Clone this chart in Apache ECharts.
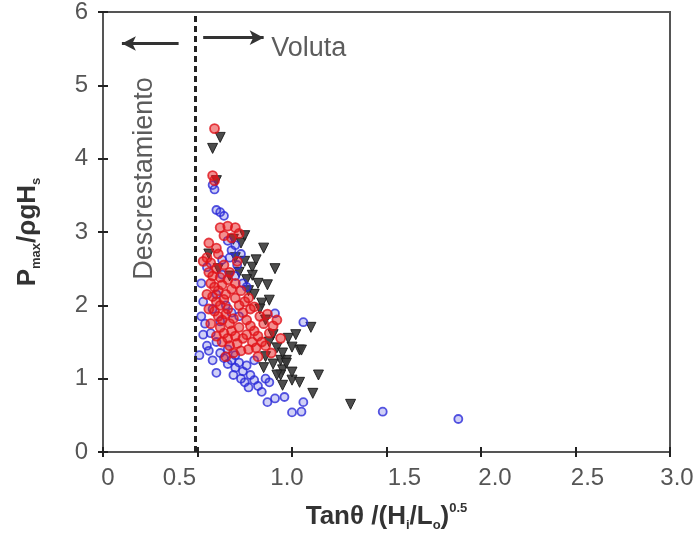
<!DOCTYPE html>
<html>
<head>
<meta charset="utf-8">
<script src="https://cdn.jsdelivr.net/npm/echarts@6/dist/echarts.min.js"></script>
<style>
html,body{margin:0;padding:0;background:#fff;}
#chart{width:698px;height:537px;}
</style>
</head>
<body>
<div id="chart"></div>
<script>
// ---- data ----
const xTicks = [0, 0.5, 1.0, 1.5, 2.0, 2.5, 3.0];
const yTicks = [0, 1, 2, 3, 4, 5, 6];
const thresholdX = 0.49;

const redCircles = [
  [0.59,4.41],[0.58,3.77],[0.59,3.70],[0.62,3.06],[0.66,3.08],[0.70,3.06],[0.64,2.95],[0.68,2.92],
  [0.72,2.98],[0.56,2.85],[0.60,2.78],[0.55,2.65],[0.57,2.58],[0.53,2.60],[0.61,2.70],
  [0.56,2.45],[0.58,2.40],[0.60,2.50],[0.62,2.38],[0.57,2.30],[0.59,2.25],[0.61,2.20],[0.63,2.28],
  [0.65,2.15],[0.58,2.12],[0.60,2.05],[0.62,2.00],[0.64,2.08],[0.66,1.95],[0.59,1.92],[0.61,1.85],
  [0.63,1.80],[0.65,1.88],[0.67,1.75],[0.69,1.82],[0.62,1.70],[0.64,1.62],[0.66,1.55],[0.68,1.65],
  [0.70,1.58],[0.72,1.70],[0.63,1.50],[0.67,1.45],[0.71,1.48],[0.74,1.55],[0.60,1.58],[0.57,1.75],
  [0.56,1.95],[0.55,2.15],[0.66,2.35],[0.68,2.22],[0.70,2.10],[0.72,2.00],[0.74,1.90],[0.76,1.80],
  [0.78,1.72],[0.80,1.65],[0.82,1.58],[0.84,1.50],[0.86,1.45],[0.76,1.60],[0.79,1.50],[0.81,1.42],
  [0.88,1.62],[0.85,1.75],[0.83,1.85],[0.90,1.72],[0.92,1.80],[0.87,1.88],[0.78,1.95],[0.75,2.05],
  [0.73,2.20],[0.70,2.30],[0.67,2.45],[0.64,2.55],[0.69,1.35],[0.73,1.38],[0.77,1.40],[0.65,1.30],
  [0.71,2.60],[0.77,2.10],[0.80,1.98],[0.94,1.55],[0.89,1.35],[0.82,1.30]
];

const blueCircles = [
  [0.58,3.64],[0.59,3.58],[0.62,3.27],[0.64,3.22],[0.60,3.30],[0.66,2.88],[0.70,2.82],[0.68,2.75],
  [0.73,2.70],[0.63,2.62],[0.55,2.52],[0.52,2.30],[0.53,2.05],[0.52,1.85],[0.54,1.75],[0.53,1.60],
  [0.55,1.45],[0.51,1.32],[0.57,1.62],[0.56,1.38],[0.58,1.25],[0.60,1.08],[0.62,1.35],[0.64,1.28],
  [0.66,1.20],[0.68,1.25],[0.70,1.15],[0.72,1.22],[0.74,1.10],[0.76,1.18],[0.78,1.05],[0.80,0.98],
  [0.75,0.95],[0.77,0.88],[0.82,0.90],[0.84,0.82],[0.80,1.25],[0.70,1.32],[0.66,1.40],[0.60,1.50],
  [0.58,1.95],[0.60,2.15],[0.63,2.42],[0.65,2.00],[0.68,1.90],[0.72,1.85],[0.70,2.40],[0.74,2.30],
  [0.76,2.25],[0.67,2.65],[0.71,2.55],[0.62,1.78],[0.87,0.68],[0.91,0.73],[0.96,0.75],[1.00,0.54],
  [1.05,0.55],[1.06,0.68],[0.91,1.89],[1.06,1.77],[1.48,0.55],[1.88,0.45],[0.86,1.00],[0.73,1.00],
  [0.69,1.05],[0.88,0.95]
];

const triangles = [
  [0.62,4.29],[0.58,4.14],[0.60,3.70],[0.85,2.78],[0.79,2.52],[0.91,2.50],[0.79,2.41],[0.87,2.28],
  [0.77,2.20],[0.88,2.07],[0.84,2.03],[1.04,1.39],[1.00,1.43],[1.14,1.05],[1.11,0.80],[1.31,0.65],
  [1.00,0.98],[0.95,1.12],[0.94,1.25],[0.97,1.25],[1.10,1.70],[1.05,1.39],[0.97,1.21],[1.00,1.09],
  [1.04,0.95],[0.94,1.05],[0.95,0.91],[0.73,2.85],[0.75,2.60],[0.70,2.65],[0.72,2.45],[0.76,2.35],
  [0.82,2.30],[0.80,2.15],[0.83,1.95],[0.86,1.80],[0.90,1.60],[0.88,1.50],[0.92,1.42],[0.95,1.35],
  [0.86,1.30],[0.90,1.20],[0.85,1.15],[0.92,1.05],[0.75,2.95],[0.69,2.90],[0.81,2.62],[0.56,2.70],
  [0.61,2.50],[0.67,2.40],[0.98,1.55],[1.02,1.60]
];

const annotations = {
  voluta: [0.89, 5.50],
  descrestamiento: [0.22, 3.73],
  arrowRight: [[0.53, 5.65], [0.85, 5.65]],
  arrowLeft: [[0.40, 5.57], [0.10, 5.57]]
};

// ---- style helpers ----
const FONT = 'Liberation Sans, Arial, sans-serif';
const labelShift = {0: 5, 0.5: -18, 1: -5, 1.5: 18, 2: 14, 2.5: 12, 3: 7};
const richShift = {};
xTicks.forEach((v, i) => {
  const s = labelShift[v] || 0;
  richShift['s' + i] = {
    fontSize: 24, color: '#555', fontFamily: FONT,
    padding: s >= 0 ? [0, 0, 0, 2 * s] : [0, -2 * s, 0, 0]
  };
});
const titleRich = {
  b: {fontSize: 26, fontWeight: 'bold', color: '#333', fontFamily: FONT, lineHeight: 30},
  sub: {fontSize: 13, fontWeight: 'bold', color: '#333', fontFamily: FONT, verticalAlign: 'bottom', lineHeight: 12},
  sup: {fontSize: 13, fontWeight: 'bold', color: '#333', fontFamily: FONT, verticalAlign: 'top', lineHeight: 16}
};

const chart = echarts.init(document.getElementById('chart'));
const axisCommon = {
  axisLine: {show: true, lineStyle: {color: '#555', width: 2}},
  axisTick: {show: true, inside: true, length: 5, lineStyle: {color: '#222', width: 2}},
  splitLine: {show: false}
};

chart.setOption({
  animation: false,
  backgroundColor: '#fff',
  grid: {left: 103, right: 28, top: 12, bottom: 85, containLabel: false, outerBoundsMode: 'none',
         show: true, borderColor: '#555', borderWidth: 2},
  xAxis: [
    Object.assign({
      type: 'value', min: 0, max: 3, interval: 0.5, position: 'bottom',
      axisLabel: {
        margin: 14,
        formatter: function (v) {
          const i = xTicks.indexOf(v);
          const t = v === 0 ? '0' : v.toFixed(1);
          return '{s' + i + '|' + t + '}';
        },
        rich: richShift
      },
      name: '{b|Tanθ /(H}{sub|i}{b|/L}{sub|o}{b|)}{sup|0.5}',
      nameLocation: 'middle', nameGap: 50,
      nameTextStyle: {rich: titleRich}
    }, axisCommon),
    Object.assign({
      type: 'value', min: 0, max: 3, interval: 0.5, position: 'top',
      axisLabel: {show: false}
    }, axisCommon)
  ],
  yAxis: [
    Object.assign({
      type: 'value', min: 0, max: 6, interval: 1, position: 'left',
      axisLabel: {margin: 15, fontSize: 24, color: '#555', fontFamily: FONT},
      name: '{b|P}{sub|max}{b|/ρgH}{sub|s}',
      nameLocation: 'middle', nameGap: 60,
      nameTextStyle: {rich: titleRich}
    }, axisCommon),
    Object.assign({
      type: 'value', min: 0, max: 6, interval: 1, position: 'right',
      axisLabel: {show: false}
    }, axisCommon)
  ],
  series: [
    {
      type: 'scatter', name: 'triangles', data: triangles,
      symbol: 'triangle', symbolRotate: 180, symbolSize: 10,
      itemStyle: {color: '#3a3a3a', borderColor: '#1a1a1a', borderWidth: 1, opacity: 0.9},
      z: 2
    },
    {
      type: 'scatter', name: 'blue', data: blueCircles,
      symbol: 'circle', symbolSize: 8,
      itemStyle: {color: 'rgba(60,60,220,0.3)', borderColor: '#2a2ad8', borderWidth: 1.8},
      z: 3
    },
    {
      type: 'scatter', name: 'red', data: redCircles,
      symbol: 'circle', symbolSize: 9,
      itemStyle: {color: 'rgba(230,20,20,0.6)', borderColor: '#e0141c', borderWidth: 1.8},
      z: 4
    },
    {
      type: 'scatter', name: 'annotations', silent: true, symbolSize: 0,
      data: [
        {value: annotations.voluta, label: {show: true, position: 'right', distance: 0, formatter: 'Voluta', fontSize: 27, color: '#333', fontFamily: FONT}},
        {value: annotations.descrestamiento, label: {show: true, position: 'inside', rotate: 90, formatter: 'Descrestamiento', fontSize: 27, color: '#333', fontFamily: FONT}}
      ],
      markLine: {
        silent: true, animation: false,
        label: {show: false},
        data: [
          [{xAxis: thresholdX, yAxis: 0, symbol: 'none', lineStyle: {type: [6, 4], width: 3, color: '#222'}},
           {xAxis: thresholdX, yAxis: 6, symbol: 'none'}],
          [{coord: annotations.arrowRight[0], symbol: 'none', lineStyle: {type: 'solid', width: 3, color: '#333'}},
           {coord: annotations.arrowRight[1], symbol: 'arrow', symbolSize: [11, 14]}],
          [{coord: annotations.arrowLeft[0], symbol: 'none', lineStyle: {type: 'solid', width: 3, color: '#333'}},
           {coord: annotations.arrowLeft[1], symbol: 'arrow', symbolSize: [11, 14]}]
        ]
      },
      z: 5
    }
  ]
});
</script>
</body>
</html>
